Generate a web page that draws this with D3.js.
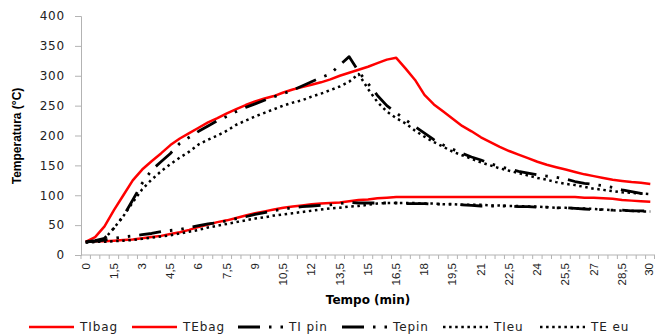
<!DOCTYPE html>
<html>
<head>
<meta charset="utf-8">
<script src="https://cdn.jsdelivr.net/npm/d3@7"></script>
<style>
  html, body { margin: 0; padding: 0; background: #fff; }
  svg { display: block; }
</style>
</head>
<body>
<svg id="chart" width="655" height="335"></svg>
<script>
// Time in minutes, sampled every half minute
const times = d3.range(0, 61).map(i => i * 0.5);

// Temperature series (°C)
const TIbag = [22, 30, 48, 75, 100, 125, 143, 157, 170, 184, 195, 204, 213, 222, 229, 237, 244, 251, 257, 262,
  266, 272, 277, 281, 285, 289, 294, 300, 305, 310, 315, 321, 327, 330, 312, 293, 268, 252, 240, 228,
  216, 207, 197, 189, 181, 174, 168, 162, 156, 151, 147, 143, 139, 135, 132, 129, 126, 124, 122, 121, 119];
const TEbag = [22, 23, 23, 24, 25, 26, 28, 30, 32, 35, 38, 42, 47, 51, 55, 58, 62, 66, 70, 73,
  76, 79, 81, 83, 85, 86, 87, 88, 90, 92, 93, 95, 96, 97, 97, 97, 97, 97, 97, 97,
  97, 97, 97, 97, 97, 97, 97, 97, 97, 97, 97, 97, 97, 96, 96, 95, 94, 92, 91, 90, 89];
const TIpin = [22, 24, 28, 45, 65, 92, 120, 142, 156, 170, 187, 197, 207, 216, 225, 232, 240, 247, 253, 259,
  265, 270, 276, 283, 290, 297, 303, 318, 332, 307, 287, 267, 250, 238, 226, 215, 204, 193, 184, 177,
  170, 164, 159, 153, 148, 144, 140, 137, 134, 132, 130, 127, 123, 120, 118, 116, 113, 109, 106, 103, 102];
const Tepin = [22, 23, 25, 28, 30, 32, 34, 36, 39, 41, 43, 46, 49, 52, 54, 57, 61, 64, 68, 71,
  74, 77, 79, 81, 82, 83, 84, 86, 88, 87, 87, 87, 87, 87, 86, 86, 86, 85, 85, 85,
  84, 83, 82, 82, 82, 82, 81, 81, 80, 80, 79, 79, 78, 77, 76, 76, 75, 75, 74, 74, 73];
const TIeu = [21, 22, 27, 45, 65, 88, 110, 126, 140, 152, 163, 173, 185, 193, 200, 208, 218, 225, 232, 238,
  244, 250, 255, 259, 265, 270, 276, 282, 290, 303, 278, 256, 240, 229, 220, 208, 198, 189, 181, 173,
  167, 161, 155, 150, 145, 141, 137, 133, 129, 126, 122, 119, 117, 114, 111, 109, 107, 105, 104, 103, 102];
const TEeu = [21, 22, 22, 23, 24, 25, 27, 29, 31, 33, 36, 39, 42, 46, 49, 52, 55, 58, 61, 63,
  66, 68, 70, 72, 74, 76, 78, 79, 81, 82, 84, 86, 87, 87, 87, 87, 86, 86, 85, 85,
  84, 84, 84, 83, 83, 82, 82, 81, 81, 80, 79, 79, 78, 78, 77, 76, 75, 74, 74, 73, 73];

const seriesNames = ["TIbag", "TEbag", "TI pin", "Tepin", "TIeu", "TE eu"];
const seriesValues = [TIbag, TEbag, TIpin, Tepin, TIeu, TEeu];

// Axis labels
const xTickValues = d3.range(0, 21).map(i => i * 1.5);
const yTickValues = [0, 50, 100, 150, 200, 250, 300, 350, 400];
const xTitle = "Tempo (min)";
const yTitle = "Temperatura (°C)";

// Line styles per series
const styles = [
  { stroke: "#ff0000", width: 2.5, dash: null },
  { stroke: "#ff0000", width: 2.5, dash: null },
  { stroke: "#000", width: 2.8, dash: "22,9,2.5,9,2.5,9" },
  { stroke: "#000", width: 2.8, dash: "22,9,2.5,9,2.5,9" },
  { stroke: "#000", width: 2.5, dash: "2.5,3.6" },
  { stroke: "#000", width: 2.5, dash: "2.5,3.6" }
];

const svg = d3.select("#chart");
const plotLeft = 81, plotRight = 655, plotTop = 16, plotBottom = 255;

const x = d3.scaleBand().domain(times).range([plotLeft, plotRight]).padding(0);
const xc = t => x(t) + x.bandwidth() / 2;
const y = d3.scaleLinear().domain([0, 400]).range([plotBottom, plotTop]);

const fmt = v => String(v).replace(".", ",");
const axisColor = "#b3b3b3";

// Y axis
const yAxis = svg.append("g")
  .attr("transform", `translate(${plotLeft},0)`)
  .call(d3.axisLeft(y).tickValues(yTickValues).tickSize(6).tickPadding(10));
yAxis.select(".domain").attr("stroke", axisColor);
yAxis.selectAll(".tick line").attr("stroke", axisColor);
yAxis.selectAll(".tick text")
  .attr("fill", "#222")
  .style("font-family", "DejaVu Sans, sans-serif")
  .style("font-size", "12px")
  .style("letter-spacing", "0.8px");

// X axis: tick marks on category boundaries, labels every 1.5 min
const xAxis = svg.append("g").attr("transform", `translate(0,${plotBottom})`);
xAxis.append("line")
  .attr("x1", plotLeft).attr("x2", plotRight)
  .attr("stroke", axisColor);
const boundaries = times.map(t => x(t)).concat([plotRight - 0.5]);
xAxis.selectAll("line.tk").data(boundaries).join("line")
  .attr("class", "tk")
  .attr("x1", d => d).attr("x2", d => d)
  .attr("y1", 0).attr("y2", 4)
  .attr("stroke", axisColor);
xAxis.selectAll("text").data(xTickValues).join("text")
  .attr("transform", d => `translate(${xc(d) - (d === 30 ? 0.6 : 0)},8) rotate(-90)`)
  .attr("text-anchor", "end")
  .attr("dy", "0.33em")
  .attr("fill", "#222")
  .style("font-family", "'Liberation Sans Narrow', 'Arial Narrow', sans-serif")
  .style("font-stretch", "condensed")
  .style("font-size", "11.5px")
  .text(fmt);

// Axis titles
svg.append("text")
  .attr("x", (plotLeft + plotRight) / 2).attr("y", 304)
  .attr("text-anchor", "middle")
  .style("font-family", "DejaVu Sans, sans-serif")
  .style("font-weight", "bold")
  .style("font-size", "12px")
  .text(xTitle);
svg.append("text")
  .attr("transform", "translate(21,136) rotate(-90)")
  .attr("text-anchor", "middle")
  .style("font-family", "'Liberation Sans Narrow', 'Arial Narrow', sans-serif")
  .style("font-stretch", "condensed")
  .style("font-weight", "bold")
  .style("font-size", "12px")
  .text(yTitle);

// Series lines
const line = d3.line().x((d, i) => xc(times[i])).y(d => y(d));
const plot = svg.append("g");
seriesValues.forEach((vals, k) => {
  const s = styles[k];
  plot.append("path")
    .datum(vals)
    .attr("fill", "none")
    .attr("stroke", s.stroke)
    .attr("stroke-width", s.width)
    .attr("stroke-dasharray", s.dash)
    .attr("stroke-linejoin", "round")
    .attr("d", line);
});

// Legend
const legendX = [29, 132, 238, 342, 443, 540];
const legendW = 45;
const legendY = 327;
const legend = svg.append("g");
seriesNames.forEach((name, k) => {
  const s = styles[k];
  legend.append("line")
    .attr("x1", legendX[k]).attr("x2", legendX[k] + legendW)
    .attr("y1", legendY).attr("y2", legendY)
    .attr("stroke", s.stroke)
    .attr("stroke-width", s.width)
    .attr("stroke-dasharray", s.dash);
  legend.append("text")
    .attr("x", legendX[k] + legendW + 6)
    .attr("y", legendY)
    .attr("dy", "0.35em")
    .attr("fill", "#222")
    .style("font-family", "DejaVu Sans, sans-serif")
    .style("font-size", "12px")
    .style("letter-spacing", "0.9px")
    .text(name);
});
</script>
</body>
</html>
